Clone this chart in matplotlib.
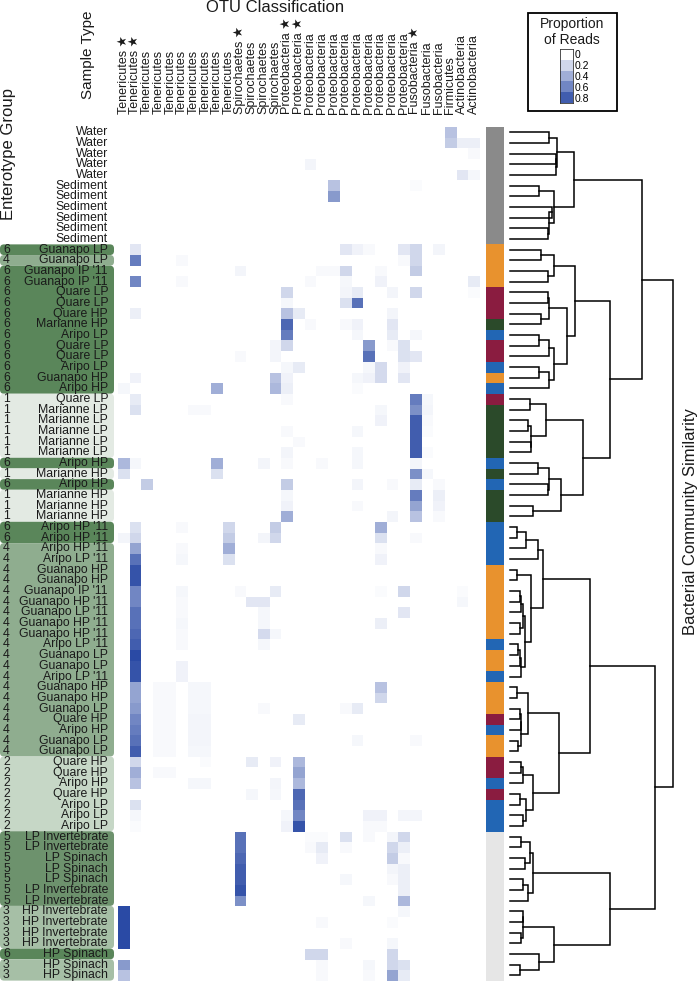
import numpy as np
import matplotlib
matplotlib.use('Agg')
import matplotlib.pyplot as plt
from matplotlib.colors import LinearSegmentedColormap, to_rgb
from matplotlib.patches import FancyBboxPatch, Rectangle
from matplotlib.transforms import blended_transform_factory

plt.rcParams['font.family'] = ['Liberation Sans', 'DejaVu Sans']

# OTU columns (phylum of each OTU) and the ones flagged with a star
otu_phyla = (['Tenericutes'] * 10 + ['Spirochaetes'] * 4 + ['Proteobacteria'] * 11
             + ['Fusobacteria'] * 3 + ['Firmicutes'] + ['Actinobacteria'] * 2)
starred = [1, 2, 11, 15, 16, 26]

# rows, top to bottom
sample_types = (['Water'] * 5 + ['Sediment'] * 6 +
                ['Guanapo LP', 'Guanapo LP', "Guanapo IP '11", "Guanapo IP '11",
                 'Quare LP', 'Quare LP', 'Quare HP', 'Marianne HP', 'Aripo LP',
                 'Quare LP', 'Quare LP', 'Aripo LP', 'Guanapo HP', 'Aripo HP',
                 'Quare LP'] + ['Marianne LP'] * 5 +
                ['Aripo HP', 'Marianne HP', 'Aripo HP'] + ['Marianne HP'] * 3 +
                ["Aripo HP '11", "Aripo HP '11", "Aripo HP '11", "Aripo LP '11",
                 'Guanapo HP', 'Guanapo HP', "Guanapo IP '11", "Guanapo HP '11",
                 "Guanapo LP '11", "Guanapo HP '11", "Guanapo HP '11", "Aripo LP '11",
                 'Guanapo LP', 'Guanapo LP', "Aripo LP '11", 'Guanapo HP', 'Guanapo HP',
                 'Guanapo LP', 'Quare HP', 'Aripo HP', 'Guanapo LP', 'Guanapo LP',
                 'Quare HP', 'Quare HP', 'Aripo HP', 'Quare HP', 'Aripo LP', 'Aripo LP',
                 'Aripo LP', 'LP Invertebrate', 'LP Invertebrate', 'LP Spinach',
                 'LP Spinach', 'LP Spinach', 'LP Invertebrate', 'LP Invertebrate']
                + ['HP Invertebrate'] * 4 + ['HP Spinach'] * 3)

enterotypes = ([None] * 11 + [6, 4] + [6] * 12 + [1] * 6 + [6, 1, 6, 1, 1, 1, 6, 6]
               + [4] * 20 + [2] * 7 + [5] * 7 + [3] * 4 + [6, 3, 3])

# proportion of reads: (otu column, value) for each non-empty cell in a row
reads = [
    [(29, .30)],
    [(29, .25), (30, .08), (31, .08)],
    [(31, .03)],
    [(17, .05)],
    [(30, .12), (31, .04)],
    [(19, .30), (26, .02)],
    [(19, .50)],
    [], [], [], [],
    [(2, .12), (20, .12), (21, .06), (22, .03), (25, .12), (26, .20), (28, .05)],
    [(2, .65), (6, .03), (25, .03), (26, .20)],
    [(11, .05), (18, .03), (19, .03), (20, .20), (23, .03), (26, .25)],
    [(2, .60), (6, .03), (17, .03), (20, .04), (23, .06), (31, .10)],
    [(15, .20), (20, .05), (21, .10), (24, .05), (26, .20), (31, .02)],
    [(15, .04), (20, .15), (21, .70)],
    [(2, .08), (15, .30), (16, .10), (24, .05)],
    [(15, .75), (17, .03), (20, .03), (21, .06), (24, .12)],
    [(15, .65), (21, .04), (24, .10), (26, .04)],
    [(14, .05), (15, .20), (22, .50), (24, .03), (25, .15)],
    [(11, .03), (14, .05), (22, .70), (25, .15), (26, .12)],
    [(15, .04), (16, .10), (22, .04), (23, .18), (25, .06)],
    [(2, .06), (14, .30), (15, .06), (21, .04), (22, .06), (23, .18), (25, .12)],
    [(1, .04), (9, .40), (14, .35), (15, .08), (21, .02)],
    [(2, .10), (15, .03), (26, .65), (27, .04)],
    [(2, .15), (7, .03), (8, .03), (23, .04), (26, .55), (27, .05)],
    [(23, .06), (26, .80), (27, .03)],
    [(15, .03), (21, .04), (26, .80), (27, .02)],
    [(16, .03), (26, .80)],
    [(15, .05), (21, .04), (26, .80), (27, .02)],
    [(1, .35), (2, .04), (9, .40), (13, .05), (15, .03), (18, .03), (21, .04), (26, .05)],
    [(1, .15), (9, .15), (26, .55), (27, .04)],
    [(3, .25), (15, .25), (21, .05), (24, .03), (26, .10), (28, .03)],
    [(15, .04), (26, .65), (28, .08)],
    [(15, .06), (21, .03), (26, .45), (28, .06)],
    [(15, .40), (24, .05), (26, .30), (28, .03)],
    [(2, .15), (6, .03), (10, .20), (14, .25), (23, .40)],
    [(1, .05), (2, .20), (10, .25), (13, .05), (14, .20), (23, .15), (26, .03)],
    [(2, .45), (6, .03), (10, .40), (23, .03)],
    [(2, .70), (6, .04), (10, .15), (23, .06)],
    [(2, .85)],
    [(2, .85)],
    [(2, .60), (6, .04), (11, .03), (14, .10), (23, .02), (25, .20), (30, .02)],
    [(2, .60), (6, .03), (12, .12), (13, .12), (30, .04)],
    [(2, .70), (6, .03), (13, .04), (25, .12)],
    [(2, .70), (6, .04), (13, .04), (23, .08)],
    [(2, .75), (6, .03), (13, .18), (14, .04)],
    [(2, .80), (6, .03), (13, .04)],
    [(2, .90)],
    [(2, .85), (6, .06)],
    [(2, .85), (6, .06)],
    [(2, .45), (4, .03), (5, .03), (7, .04), (8, .04), (23, .30)],
    [(2, .45), (4, .03), (5, .03), (7, .04), (8, .04), (23, .20)],
    [(2, .50), (4, .03), (5, .03), (7, .04), (8, .04), (13, .03), (20, .03), (21, .10)],
    [(2, .60), (4, .03), (5, .03), (7, .05), (8, .05), (16, .10)],
    [(2, .65), (4, .03), (5, .03), (7, .05), (8, .05)],
    [(2, .70), (4, .03), (5, .03), (7, .05), (8, .05), (21, .04), (26, .03)],
    [(2, .80), (4, .03), (5, .03), (7, .04), (8, .04)],
    [(2, .20), (8, .02), (12, .10), (14, .06), (16, .35)],
    [(2, .40), (4, .03), (5, .03), (16, .45)],
    [(2, .30), (7, .04), (8, .04), (14, .05), (16, .35)],
    [(12, .04), (14, .04), (16, .75)],
    [(2, .15), (16, .70)],
    [(2, .04), (15, .04), (16, .60), (22, .06), (23, .06), (25, .05), (26, .05)],
    [(2, .02), (15, .06), (16, .85), (22, .03), (23, .03)],
    [(11, .70), (17, .02), (18, .02), (20, .15), (22, .03), (24, .05), (25, .20)],
    [(11, .70), (17, .03), (18, .10), (20, .03), (24, .20), (25, .08)],
    [(11, .75), (18, .06), (24, .25), (25, .03)],
    [(11, .80), (24, .05), (25, .08)],
    [(11, .80), (20, .04), (24, .03), (25, .08)],
    [(11, .85), (25, .08)],
    [(11, .55), (22, .04), (25, .35)],
    [(1, .90), (25, .04)],
    [(1, .90), (18, .03), (24, .02)],
    [(1, .90)],
    [(1, .90), (20, .03), (24, .04)],
    [(17, .20), (18, .20), (24, .20)],
    [(1, .50), (18, .03), (22, .04), (24, .20), (25, .15)],
    [(1, .30), (18, .03), (22, .03), (24, .45), (25, .10)],
]

# dendrogram: (height, left, right), leaves are row numbers
tree = (1.00,
        (0.81,
         (0.39,
          (0.29, (0.24, 1, 2), (0.28, (0.28, 3, 4), 5)),
          (0.27, (0.18, 6, 7), (0.24, (0.26, 8, 9), (0.23, 10, 11)))),
         (0.61,
          (0.40,
           (0.27, (0.19, 12, 13), (0.23, 14, 15)),
           (0.35,
            (0.24, (0.23, 16, 17), (0.19, 18, 19)),
            (0.27, (0.24, (0.18, 20, 21), 22), (0.24, (0.18, 23, 24), 25)))),
          (0.45,
           (0.22, (0.12, 26, 27), (0.13, (0.11, 28, 29), (0.13, 30, 31))),
           (0.31, (0.24, (0.17, 32, 33), (0.23, 34, 35)), (0.14, 36, 37))))),
        (0.89,
         (0.49,
          (0.20,
           (0.17, (0.10, (0.04, 38, 39), 40), 41),
           (0.13, (0.04, 42, 43),
            (0.09, (0.08, (0.065, (0.06, 44, 45), 46), (0.06, 47, 48)),
             (0.07, (0.06, (0.05, 49, 50), 51), 52)))),
          (0.30,
           (0.11, (0.04, 53, 54), (0.07, (0.065, (0.06, 55, 56), 57), (0.05, 58, 59))),
           (0.14, (0.08, (0.07, 60, 61), 62), (0.10, (0.06, 63, 64), (0.08, 65, 66))))),
         (0.61,
          (0.14, (0.12, (0.07, 67, 68), (0.09, 69, 70)), (0.11, (0.08, 71, 72), 73)),
          (0.27, (0.08, (0.08, 74, 75), (0.07, 76, 77)), (0.18, 78, (0.06, 79, 80))))))

legend_levels = [0, 0.2, 0.4, 0.6, 0.8]

group_colors = {6: '#5a865a', 4: '#8fad8f', 1: '#e3eae3', 2: '#c6d7c6',
                5: '#6d926d', 3: '#a6bfa6'}
site_colors = {'Water': '#8a8a8a', 'Sediment': '#8a8a8a', 'Guanapo': '#e8922e',
               'Quare': '#8a1c40', 'Marianne': '#2b4a2a', 'Aripo': '#2266b4'}


def site_color(name):
    for key, col in site_colors.items():
        if name.startswith(key):
            return col
    return '#e6e6e6'


W, H = 700, 982
fig = plt.figure(figsize=(W / 100, H / 100), dpi=100)


def add_px_axes(x0, x1, y0, y1):
    return fig.add_axes([x0 / W, 1 - y1 / H, (x1 - x0) / W, (y1 - y0) / H])


top, bottom = 127.0, 980.6
n_rows, n_cols = len(sample_types), len(otu_phyla)

mat = np.zeros((n_rows, n_cols))
for i, row in enumerate(reads):
    for c, v in row:
        mat[i, c - 1] = v

cmap = LinearSegmentedColormap.from_list('reads', ['#ffffff', '#2a4aa5'])

# heatmap
ax = add_px_axes(117.7, 479.4, top, bottom)
ax.imshow(mat, cmap=cmap, vmin=0, vmax=0.9, aspect='auto', interpolation='nearest')
ax.axis('off')

trans = blended_transform_factory(ax.transData, fig.transFigure)
for j, name in enumerate(otu_phyla):
    label = name + (' \u2605' if (j + 1) in starred else '')
    ax.text(j, 1 - 114 / H, label, rotation=90, ha='center', va='bottom',
            fontsize=9, color='#1a1a1a', transform=trans)

# row labels + enterotype shading
lab = add_px_axes(0, 117.7, top, bottom)
lab.set_xlim(0, 117.7)
lab.set_ylim(n_rows - 0.5, -0.5)
lab.axis('off')
i = 0
while i < n_rows:
    g = enterotypes[i]
    j = i
    while j + 1 < n_rows and enterotypes[j + 1] == g:
        j += 1
    if g is not None:
        lab.add_patch(FancyBboxPatch((0, i - 0.5), 114, j - i + 1,
                                     boxstyle='round,pad=0,rounding_size=4',
                                     mutation_aspect=1 / 10.67,
                                     facecolor=group_colors[g], edgecolor='none'))
    i = j + 1
for i, name in enumerate(sample_types):
    lab.text(108, i, name, ha='right', va='center', fontsize=8.8, color='#1a1a1a')
    if enterotypes[i] is not None:
        lab.text(3, i, str(enterotypes[i]), ha='left', va='center', fontsize=8.8,
                 color='#1a1a1a')

# sample type colour strip
strip = add_px_axes(485.7, 503, top, bottom)
strip.imshow(np.array([[to_rgb(site_color(s))] for s in sample_types]),
             aspect='auto', interpolation='nearest')
strip.axis('off')

# dendrogram
dend = add_px_axes(510, 673.3, top, bottom)
dend.set_xlim(0, 1)
dend.set_ylim(n_rows - 0.5, -0.5)
dend.axis('off')


def draw_node(node):
    if isinstance(node, int):
        return node - 1, 0.0
    h, left, right = node
    yl, hl = draw_node(left)
    yr, hr = draw_node(right)
    dend.plot([hl, h, h, hr], [yl, yl, yr, yr], color='black', lw=1.1,
              clip_on=False, solid_joinstyle='miter')
    return (yl + yr) / 2, h


draw_node(tree)

# titles
fig.text(275 / W, 1 - 8 / H, 'OTU Classification', ha='center', va='center',
         fontsize=12, color='#1a1a1a')
fig.text(88 / W, 1 - 55 / H, 'Sample Type', ha='center', va='center', rotation=90,
         fontsize=11, color='#1a1a1a')
fig.text(9 / W, 1 - 154 / H, 'Enterotype Group', ha='center', va='center',
         rotation=90, fontsize=12, color='#1a1a1a')
fig.text(690 / W, 1 - 522 / H, 'Bacterial Community Similarity', ha='center',
         va='center', rotation=90, fontsize=12, color='#1a1a1a')

# legend
fig.patches.append(Rectangle((528 / W, 1 - 111 / H), 89 / W, 98 / H,
                             transform=fig.transFigure, facecolor='none',
                             edgecolor='black', lw=1.3, zorder=5))
fig.text(572 / W, 1 - 32 / H, 'Proportion\nof Reads', ha='center', va='center',
         fontsize=10, linespacing=1.15, color='#1a1a1a')
cax = add_px_axes(560, 573, 49, 103)
cax.imshow(np.array(legend_levels)[:, None], cmap=cmap, vmin=0, vmax=0.9,
           aspect='auto', interpolation='nearest')
cax.set_xticks([])
cax.yaxis.tick_right()
cax.set_yticks(range(len(legend_levels)))
cax.set_yticklabels([f'{v:g}' for v in legend_levels], fontsize=7.5)
cax.tick_params(axis='y', length=0, pad=1.5)
for sp in cax.spines.values():
    sp.set_color('#333333')
    sp.set_linewidth(0.6)

fig.savefig('out.png', dpi=100)
